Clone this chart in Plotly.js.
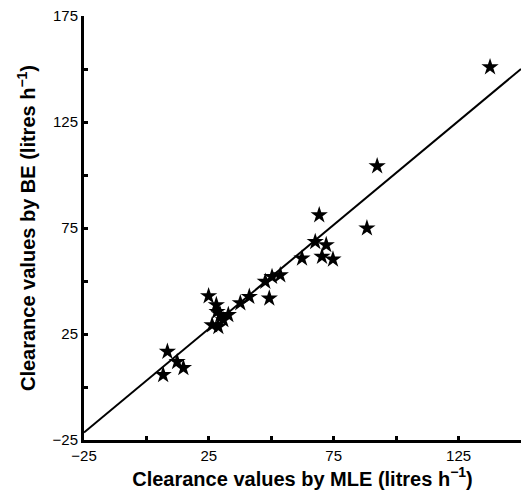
<!DOCTYPE html>
<html>
<head>
<meta charset="utf-8">
<script src="https://cdn.plot.ly/plotly-3.0.1.min.js"></script>
<style>html,body{margin:0;padding:0;background:#fff;}#chart{width:526px;height:493px;}</style>
</head>
<body>
<div id="chart"></div>
<script>
// Clearance values (litres h^-1): MLE (x) vs BE (y)
const mleValues = [6.7, 8.4, 12.3, 14.8, 24.9, 28.0, 28.3, 29.6, 32.8, 26.3, 28.8, 30.8, 37.6, 41.2, 47.6, 49.2, 50.3, 53.6, 62.3, 67.6, 69.2, 72.0, 70.3, 74.7, 88.3, 92.4, 137.6];
const beValues  = [5.7, 16.7, 11.9, 9.0, 42.9, 38.7, 35.5, 34.0, 34.0, 29.2, 28.4, 31.6, 39.6, 42.6, 49.7, 41.8, 52.0, 52.8, 60.7, 68.5, 81.1, 67.0, 61.5, 60.2, 74.9, 104.2, 150.9];
// Fitted regression line end points
const lineX = [-25, 150];
const lineY = [-21.5, 150];
const tickVals = [-25, 0, 25, 50, 75, 100, 125, 150, 175];
const xTickText = ['\u221225', '', '25', '', '75', '', '125', '', ''];
const yTickText = ['\u221225', '', '25', '', '75', '', '125', '', '175'];

const traces = [
  {x: lineX, y: lineY, mode: 'lines', line: {color: '#000', width: 2}, hoverinfo: 'skip'},
  {x: mleValues, y: beValues, mode: 'markers', marker: {symbol: 'star', size: 13, color: '#000', line: {width: 0}}}
];

const axisCommon = {
  showgrid: false, zeroline: false, showline: true, linecolor: '#000', linewidth: 3,
  ticks: 'inside', ticklen: 4, tickwidth: 3, tickcolor: '#000',
  tickmode: 'array', tickvals: tickVals,
  tickfont: {family: 'Liberation Sans, Arial, sans-serif', size: 15, color: '#000'},
  automargin: false, fixedrange: true
};

const layout = {
  width: 526, height: 493,
  margin: {l: 84, r: 5, t: 16, b: 53},
  paper_bgcolor: '#fff', plot_bgcolor: '#fff',
  showlegend: false,
  xaxis: Object.assign({}, axisCommon, {
    range: [-25, 150], ticktext: xTickText,
    title: {text: 'Clearance values by MLE (litres h<sup>\u22121</sup>)', standoff: 9,
      font: {family: 'Liberation Sans, Arial, sans-serif', size: 20, color: '#000', weight: 'bold'}}
  }),
  yaxis: Object.assign({}, axisCommon, {
    range: [-25, 175], ticktext: yTickText,
    title: {text: 'Clearance values by BE (litres h<sup>\u22121</sup>)', standoff: 12,
      font: {family: 'Liberation Sans, Arial, sans-serif', size: 20, color: '#000', weight: 'bold'}}
  })
};

Plotly.newPlot('chart', traces, layout, {displayModeBar: false, staticPlot: true});
</script>
</body>
</html>
